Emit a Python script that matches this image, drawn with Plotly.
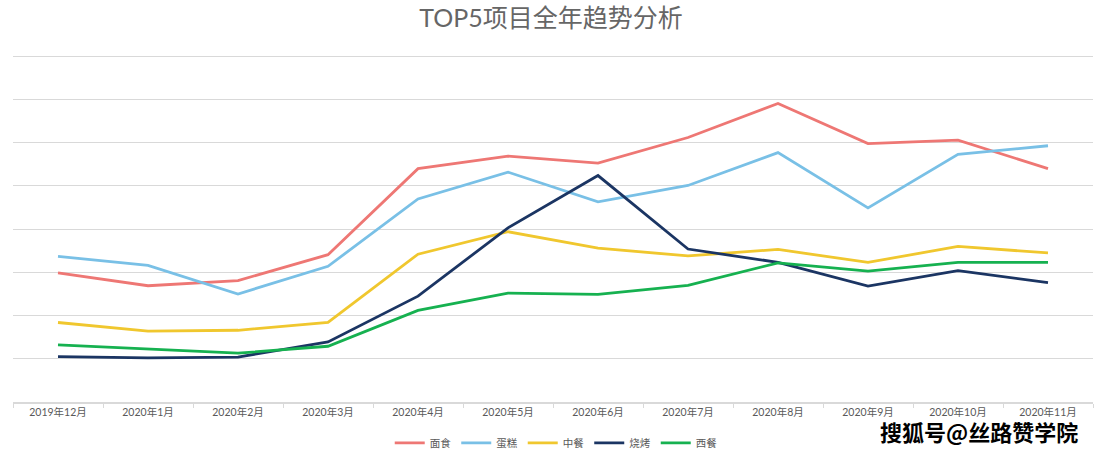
import plotly.graph_objects as go

months = ["2019年12月", "2020年1月", "2020年2月", "2020年3月", "2020年4月", "2020年5月",
          "2020年6月", "2020年7月", "2020年8月", "2020年9月", "2020年10月", "2020年11月"]

mianshi = [29.9, 26.9, 28.1, 34.1, 54.0, 56.9, 55.3, 61.2, 69.1, 59.8, 60.6, 54.0]
dangao = [33.7, 31.6, 25.0, 31.4, 47.0, 53.2, 46.3, 50.1, 57.7, 44.9, 57.3, 59.3]
zhongcan = [18.4, 16.4, 16.6, 18.4, 34.2, 39.4, 35.6, 33.8, 35.3, 32.3, 36.0, 34.5]
shaokao = [10.5, 10.2, 10.4, 13.9, 24.5, 40.3, 52.4, 35.4, 32.3, 26.8, 30.4, 27.6]
xican = [13.2, 12.3, 11.3, 12.9, 21.2, 25.2, 24.9, 27.0, 32.2, 30.3, 32.3, 32.3]

series = [
    ("面食", mianshi, "#EE7774"),
    ("蛋糕", dangao, "#79C0E6"),
    ("中餐", zhongcan, "#F0C72E"),
    ("烧烤", shaokao, "#1B3563"),
    ("西餐", xican, "#16B150"),
]

FONT = "Lato, 'Noto Sans CJK SC', sans-serif"

fig = go.Figure()
for name, vals, color in series:
    fig.add_trace(go.Scatter(x=months, y=vals, name=name, mode="lines",
                             line=dict(color=color, width=2.8)))

fig.update_layout(
    width=1102, height=453,
    margin=dict(l=13, r=9, t=55, b=51, autoexpand=False),
    paper_bgcolor="white", plot_bgcolor="white",
    title=dict(text="TOP5项目全年趋势分析", x=0.5, xanchor="center", y=0.96, yanchor="middle",
               font=dict(family=FONT, size=25, color="#666666")),
    showlegend=True,
    legend=dict(orientation="h", x=0.503, xanchor="center", y=-0.118, yanchor="middle",
                font=dict(family=FONT, size=10.5, color="#595959"), itemwidth=30,
                tracegroupgap=0),
    font=dict(family=FONT),
)
fig.update_xaxes(type="category", showgrid=False, showline=True, linecolor="#d9d9d9", linewidth=1.5,
                 ticks="outside", tickson="boundaries", ticklen=4, tickcolor="#d9d9d9",
                 tickfont=dict(family=FONT, size=10.5, color="#595959"), range=[-0.5, 11.5])
fig.update_yaxes(range=[0, 80.3], tickvals=[10, 20, 30, 40, 50, 60, 70, 80], showticklabels=False,
                 showgrid=True, gridcolor="#d9d9d9", gridwidth=1, zeroline=False, showline=False)

fig.add_annotation(text="<b>搜狐号@丝路赞学院</b>", xref="paper", yref="paper", x=0.988, y=-0.085,
                   xanchor="right", yanchor="middle", showarrow=False,
                   font=dict(family="'Noto Sans CJK SC', sans-serif", size=22, color="black"))

fig.write_html("out.html", config={"displayModeBar": False},
               post_script="document.body.style.margin='0';")
